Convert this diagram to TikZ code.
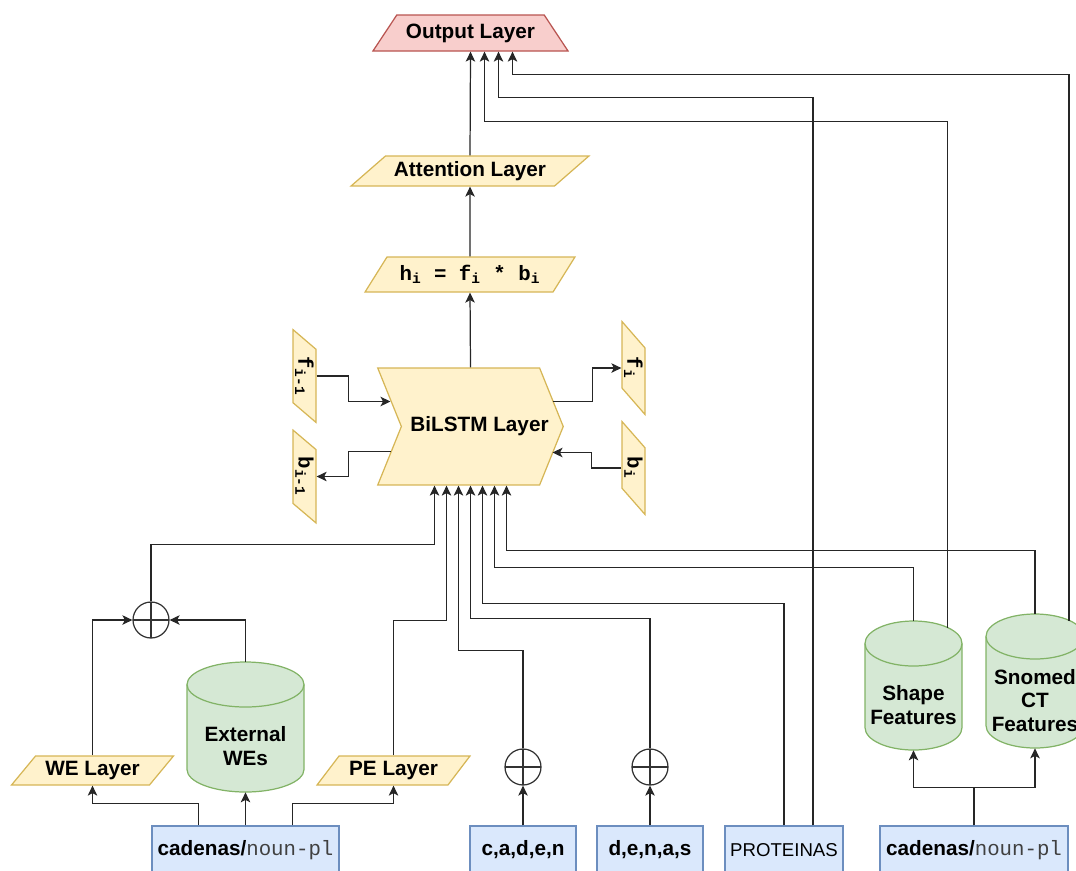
\documentclass[tikz,border=0pt]{standalone}
\usepackage{fontspec}
\setmainfont{Liberation Sans}
\setmonofont{Liberation Mono}
\usepackage{xcolor}
\usepackage{tikz}
\usetikzlibrary{positioning, arrows.meta, calc, shapes.geometric, shapes.symbols}

\definecolor{yelfill}{HTML}{FFF2CC}
\definecolor{yeldraw}{HTML}{D6B656}
\definecolor{grnfill}{HTML}{D5E8D4}
\definecolor{grndraw}{HTML}{82B366}
\definecolor{blufill}{HTML}{DAE8FC}
\definecolor{bludraw}{HTML}{6C8EBF}
\definecolor{redfill}{HTML}{F8CECC}
\definecolor{reddraw}{HTML}{B85450}

\newcommand{\lyrfont}{\bfseries\fontsize{11.8}{13.6}\selectfont}
\newcommand{\tagpl}{\textmd{\ttfamily\color{black!75}noun-pl}}
% cylinder outline: centre x, top y, bottom y, half width (px)
\newcommand{\dbdraw}[4]{%
  \path[dbline] ({#1-#4},{#2+22.5}) -- ({#1-#4},{#3-22.5})
    arc[start angle=180, end angle=360, x radius={#4*0.02cm}, y radius=0.45cm]
    -- ({#1+#4},{#2+22.5})
    arc[start angle=0, end angle=180, x radius={#4*0.02cm}, y radius=0.45cm] -- cycle;
  \draw[dbline, fill=none] ({#1-#4},{#2+22.5})
    arc[start angle=180, end angle=360, x radius={#4*0.02cm}, y radius=0.45cm];
}

\begin{document}
\begin{tikzpicture}[x=0.02cm, y=-0.02cm,
    wire/.style={draw=black!85, line width=0.7pt},
    arr/.style={wire, -{Stealth[length=0.2cm, width=0.19cm, inset=0.05cm]}},
    yellowbox/.style={trapezium, trapezium stretches=true, draw=yeldraw, fill=yelfill, line width=0.7pt, inner sep=0pt, font=\lyrfont},
    sidebox/.style={yellowbox, rotate=-90, minimum width=1.86cm, minimum height=0.46cm, trapezium left angle=52, trapezium right angle=128, font=\lyrfont\ttfamily},
    dbline/.style={draw=grndraw, fill=grnfill, line width=0.7pt},
    dbnode/.style={rectangle, inner sep=0pt},
    dbtext/.style={align=center, font=\lyrfont, yshift=-0.39cm},
    plusnode/.style={circle, draw=black!80, line width=0.7pt, minimum size=0.72cm, inner sep=0pt,
        path picture={\draw[black!80, line width=0.7pt] (path picture bounding box.north) -- (path picture bounding box.south) (path picture bounding box.west) -- (path picture bounding box.east);}},
    tokbox/.style={rectangle, draw=bludraw, fill=blufill, line width=0.7pt, minimum height=0.96cm, inner sep=0pt, font=\lyrfont},
]
\path[use as bounding box, clip] (0,0) rectangle (1076,870);

% layers
\node[trapezium, trapezium stretches=true, trapezium left angle=42, trapezium right angle=42, draw=reddraw, fill=redfill, line width=0.7pt, inner sep=0pt, minimum width=3.94cm, minimum height=0.72cm, font=\lyrfont] (output) at (470.5,33) {Output Layer};
\node[yellowbox, minimum width=4.76cm, minimum height=0.6cm, trapezium left angle=32, trapezium right angle=148] (attn) at (470,171) {Attention Layer};
\node[yellowbox, minimum width=4.2cm, minimum height=0.7cm, trapezium left angle=45, trapezium right angle=135, font=\lyrfont\ttfamily] (hnode) at (470,274.5) {h\textsubscript{i} = f\textsubscript{i} * b\textsubscript{i}};
\node[signal, signal to=east, signal from=west, signal pointer angle=136, draw=yeldraw, fill=yelfill, line width=0.7pt, inner ysep=0pt, inner xsep=-0.18cm, minimum height=2.34cm, font=\lyrfont] (bilstm) at (470.5,426.5) {\hspace{0.36cm}BiLSTM Layer};

\node[sidebox] (fim1) at (304.5,376) {f\textsubscript{i-1}};
\node[sidebox] (bim1) at (304.5,476.5) {b\textsubscript{i-1}};
\node[sidebox] (fi) at (633.5,368) {f\textsubscript{i}};
\node[sidebox] (bi) at (633.5,468) {b\textsubscript{i}};

% inputs
\node[plusnode] (c1) at (151,620) {};
\node[plusnode] (c2) at (523,767) {};
\node[plusnode] (c3) at (650,767) {};
\node[yellowbox, minimum width=3.26cm, minimum height=0.58cm, trapezium left angle=43, trapezium right angle=137] (we) at (92.5,770.5) {WE Layer};
\node[yellowbox, minimum width=3.06cm, minimum height=0.58cm, trapezium left angle=46, trapezium right angle=134] (pe) at (393.5,770.5) {PE Layer};

\dbdraw{245.5}{662}{792}{58.5}
\dbdraw{913.5}{621}{750}{48.5}
\dbdraw{1035}{614}{748}{49}
\node[dbnode, minimum width=2.34cm, minimum height=2.6cm, label={[dbtext]center:External\\WEs}] (ext) at (245.5,727) {};
\node[dbnode, minimum width=1.94cm, minimum height=2.58cm, label={[dbtext]center:Shape\\Features}] (shp) at (913.5,685.5) {};
\node[dbnode, minimum width=1.96cm, minimum height=2.68cm, label={[dbtext]center:Snomed\\CT\\Features}] (sno) at (1035,681) {};

\node[tokbox, minimum width=3.74cm] (tok1) at (245.5,850) {cadenas/\tagpl};
\node[tokbox, minimum width=2.12cm] (tok2) at (523,850) {c,a,d,e,n};
\node[tokbox, minimum width=2.12cm] (tok3) at (650,850) {d,e,n,a,s};
\node[tokbox, minimum width=2.36cm, font=\fontsize{10.6}{12}\selectfont] (tok4) at (784,850) {PROTEINAS};
\node[tokbox, minimum width=3.76cm] (tok5) at (974,850) {cadenas/\tagpl};

% upward chain
\draw[arr] (bilstm.north) -- (hnode.south);
\draw[arr] (hnode.north) -- (attn.south);
\draw[arr] (attn.north) -- (output.south);

% recurrent states
\draw[arr] (fim1.north) -- ++(32,0) |- ($(bilstm.center)+(-80,-25)$);
\draw[arr] ($(bilstm.center)+(-80,25)$) -- ++(-42,0) |- (bim1.north);
\draw[arr] ($(bilstm.center)+(82,-25)$) -- ++(40,0) |- (fi.south);
\draw[arr] (bi.south) -- ++(-30,0) |- ($(bilstm.center)+(82,26)$);

% feeders of the BiLSTM
\draw[arr] (c1.north) |- ($(bilstm.south)+(-36,59)$) -- ($(bilstm.south)+(-36,0)$);
\draw[arr] (pe.north) |- ($(bilstm.south)+(-24,135)$) -- ($(bilstm.south)+(-24,0)$);
\draw[arr] (c2.north) |- ($(bilstm.south)+(-12,165)$) -- ($(bilstm.south)+(-12,0)$);
\draw[arr] (c3.north) |- ($(bilstm.south)+(0,133)$) -- (bilstm.south);
\draw[arr] (tok4.north) |- ($(bilstm.south)+(12,118)$) -- ($(bilstm.south)+(12,0)$);
\draw[arr] (shp.north) |- ($(bilstm.south)+(24,82)$) -- ($(bilstm.south)+(24,0)$);
\draw[arr] (sno.north) |- ($(bilstm.south)+(36,65)$) -- ($(bilstm.south)+(36,0)$);

% feeders of the output layer
\draw[arr] ($(shp.north)+(34,7)$) |- ($(output.south)+(14,70)$) -- ($(output.south)+(14,0)$);
\draw[arr] ($(tok4.north)+(29,0)$) |- ($(output.south)+(28,46)$) -- ($(output.south)+(28,0)$);
\draw[arr] ($(sno.north)+(34,7)$) |- ($(output.south)+(42,23)$) -- ($(output.south)+(42,0)$);

% embeddings
\draw[arr] (we.north) |- (c1.west);
\draw[arr] (ext.north) |- (c1.east);
\draw[arr] ($(tok1.north)+(-47,0)$) |- ($(we.south)+(0,18)$) -- (we.south);
\draw[arr] (tok1.north) -- (ext.south);
\draw[arr] ($(tok1.north)+(47,0)$) |- ($(pe.south)+(0,18)$) -- (pe.south);
\draw[arr] (tok2.north) -- (c2.south);
\draw[arr] (tok3.north) -- (c3.south);
\draw[arr] (tok5.north) -- ++(0,-38) -| (shp.south);
\draw[arr] (tok5.north) -- ++(0,-38) -| (sno.south);
\end{tikzpicture}
\end{document}
